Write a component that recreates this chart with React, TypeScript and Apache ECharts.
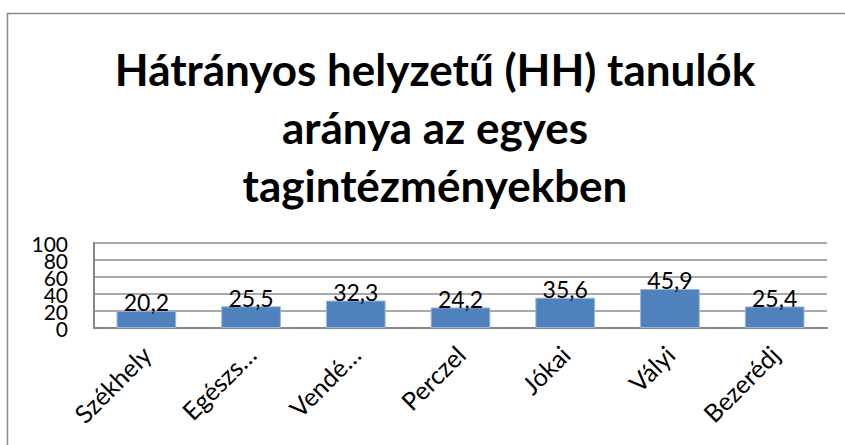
import React, { useEffect, useRef } from "react";
import * as echarts from "echarts";

const categories = ["Székhely", "Egészs…", "Vendé…", "Perczel", "Jókai", "Vályi", "Bezerédj"];
const values = [20.2, 25.5, 32.3, 24.2, 35.6, 45.9, 25.4];
const yTicks = [0, 20, 40, 60, 80, 100];
const titleLines = ["Hátrányos helyzetű (HH) tanulók", "aránya az egyes", "tagintézményekben"];

const FONT = "Lato, 'Open Sans', sans-serif";
const Y_MIN = yTicks[0];
const Y_MAX = yTicks[yTicks.length - 1];
const Y_STEP = yTicks[1] - yTicks[0];

const yLabel = {
  color: "#000",
  fontSize: 21,
  fontFamily: FONT,
  margin: 26,
  hideOverlap: false,
};

export default function App() {
  const ref = useRef<HTMLDivElement>(null);
  useEffect(() => {
    if (!ref.current) return;
    const chart = echarts.init(ref.current, null, { renderer: "svg" });
    chart.setOption({
      animation: false,
      backgroundColor: "#ffffff",
      textStyle: { fontFamily: FONT },
      grid: { left: 94, right: 18, top: 243, bottom: 117, containLabel: false },
      graphic: [
        {
          type: "rect",
          shape: { x: 7.5, y: 13.5, width: 1000, height: 600 },
          style: { fill: "none", stroke: "#8a8a8a", lineWidth: 1.5 },
          silent: true,
        },
        {
          type: "text",
          x: 435,
          y: 40,
          style: {
            text: titleLines.join("\n"),
            font: `bold 44px ${FONT}`,
            fill: "#000",
            align: "center",
            verticalAlign: "top",
            lineHeight: 58,
          },
        },
      ],
      xAxis: {
        type: "category",
        data: categories,
        axisLine: { show: true, lineStyle: { color: "#888888", width: 2 } },
        axisTick: { show: false },
        axisLabel: {
          rotate: 45,
          interval: 0,
          color: "#000",
          fontSize: 25,
          fontFamily: FONT,
          margin: 22,
        },
      },
      yAxis: [
        {
          type: "value",
          position: "left",
          min: Y_MIN,
          max: Y_MAX,
          interval: Y_STEP,
          axisLine: { show: true, lineStyle: { color: "#888888", width: 2 } },
          axisTick: { show: false },
          splitLine: { show: true, lineStyle: { color: "#8c8c8c", width: 1.5 } },
          axisLabel: { ...yLabel, showMinLabel: false, showMaxLabel: false },
        },
        {
          type: "value",
          position: "left",
          min: Y_MIN,
          max: Y_MAX,
          interval: Y_MAX - Y_MIN,
          axisLine: { show: false },
          axisTick: { show: false },
          splitLine: { show: false },
          axisLabel: { ...yLabel, showMinLabel: true, showMaxLabel: true },
        },
      ],
      series: [
        {
          type: "bar",
          data: values,
          yAxisIndex: 0,
          barWidth: "57%",
          itemStyle: { color: "#4F81BD", borderColor: "#9db7dc", borderWidth: 1 },
          label: {
            show: true,
            position: "top",
            distance: -3,
            color: "#000",
            fontSize: 23,
            fontFamily: FONT,
            formatter: (p: any) => String(p.value).replace(".", ","),
          },
        },
      ],
    });
    return () => chart.dispose();
  }, []);
  return (
    <div
      ref={ref}
      style={{ position: "fixed", left: 0, top: 0, width: 845, height: 445 }}
    />
  );
}
